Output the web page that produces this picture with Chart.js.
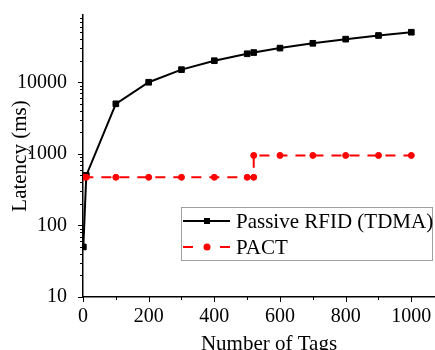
<!DOCTYPE html>
<html>
<head>
<meta charset="utf-8">
<script src="https://cdn.jsdelivr.net/npm/chart.js@4"></script>
<style>
  body { margin: 0; background: #fff; }
  #wrap { width: 435px; height: 350px; overflow: hidden; position: relative; }
  #wrap canvas { position: absolute; left: 0; top: 0; }
</style>
</head>
<body>
<div id="wrap"><canvas id="chart" width="460" height="365"></canvas></div>
<script>
// data
const tagsTdma = [1, 10, 100, 200, 300, 400, 500, 520, 600, 700, 800, 900, 1000];
const latencyTdma = [50, 500, 5000, 10000, 15000, 20000, 25000, 26000, 30000, 35000, 40000, 45000, 50000];
const tagsPact = [1, 10, 100, 200, 300, 400, 500, 520, 520, 600, 700, 800, 900, 1000];
const latencyPact = [470, 470, 470, 470, 470, 470, 470, 470, 950, 950, 950, 950, 950, 950];
const yTickLabels = [10, 100, 1000, 10000];
const xTickLabels = [0, 200, 400, 600, 800, 1000];

const serif = 'Liberation Serif';

function pairs(xs, ys) {
    return xs.map((x, i) => ({ x: x, y: ys[i] }));
}

// outward tick marks: long at labelled values, short minor ones in between
const tickMarks = {
    id: 'tickMarks',
    afterDraw(chart) {
        const ctx = chart.ctx;
        const xs = chart.scales.x;
        const ys = chart.scales.y;
        ctx.save();
        ctx.strokeStyle = '#000';
        ctx.lineWidth = 1;
        for (let dec = 10; dec <= ys.max; dec *= 10) {
            for (let k = 1; k <= 9; k++) {
                const v = k * dec;
                if (v > ys.max) break;
                const py = Math.round(ys.getPixelForValue(v)) + 0.5;
                const len = k === 1 ? 5 : 3;
                ctx.beginPath();
                ctx.moveTo(ys.right - len, py);
                ctx.lineTo(ys.right, py);
                ctx.stroke();
            }
        }
        for (let v = 0; v <= xs.max; v += 100) {
            const px = Math.round(xs.getPixelForValue(v)) + 0.5;
            const len = v % 200 === 0 ? 5 : 3;
            ctx.beginPath();
            ctx.moveTo(px, xs.top);
            ctx.lineTo(px, xs.top + len);
            ctx.stroke();
        }
        ctx.restore();
    }
};

// boxed legend inside the plot
const boxLegend = {
    id: 'boxLegend',
    afterDraw(chart) {
        const ctx = chart.ctx;
        const bx = 181, by = 207, bw = 251, bh = 53;
        ctx.save();
        ctx.fillStyle = '#fff';
        ctx.fillRect(bx, by, bw, bh);
        ctx.strokeStyle = '#a0a0a0';
        ctx.lineWidth = 1;
        ctx.strokeRect(bx + 0.5, by + 0.5, bw, bh);
        const rows = [221, 247];
        chart.data.datasets.forEach((ds, i) => {
            const y = rows[i];
            ctx.strokeStyle = ds.borderColor;
            ctx.lineWidth = ds.borderWidth;
            ctx.beginPath();
            if (ds.borderDash) {
                ctx.moveTo(183, y); ctx.lineTo(193, y);
                ctx.moveTo(220, y); ctx.lineTo(230, y);
            } else {
                ctx.moveTo(183, y); ctx.lineTo(230, y);
            }
            ctx.stroke();
            ctx.fillStyle = ds.pointBackgroundColor;
            ctx.beginPath();
            if (ds.pointStyle === 'rect') {
                ctx.rect(204, y - 3, 6, 6);
            } else {
                ctx.arc(207, y, 3.5, 0, Math.PI * 2);
            }
            ctx.fill();
            ctx.fillStyle = '#000';
            ctx.font = '21px "' + serif + '"';
            ctx.textBaseline = 'middle';
            ctx.fillText(ds.label, 236, y + 1);
        });
        ctx.restore();
    }
};

new Chart(document.getElementById('chart'), {
    type: 'line',
    data: {
        datasets: [
            {
                label: 'Passive RFID (TDMA)',
                data: pairs(tagsTdma, latencyTdma),
                borderColor: '#000',
                backgroundColor: '#000',
                pointBackgroundColor: '#000',
                pointBorderColor: '#000',
                borderWidth: 2,
                pointStyle: 'rect',
                pointRadius: 4,
                pointBorderWidth: 1,
                order: 2
            },
            {
                label: 'PACT',
                data: pairs(tagsPact, latencyPact),
                borderColor: '#ff0000',
                backgroundColor: '#ff0000',
                pointBackgroundColor: '#ff0000',
                pointBorderColor: '#ff0000',
                borderWidth: 2,
                borderDash: [10, 8],
                pointStyle: 'circle',
                pointRadius: 3,
                pointBorderWidth: 1,
                order: 1
            }
        ]
    },
    options: {
        responsive: false,
        animation: false,
        events: [],
        layout: { padding: { top: 15, left: 0, right: 0, bottom: 0 } },
        plugins: { legend: { display: false }, tooltip: { enabled: false } },
        scales: {
            x: {
                type: 'linear',
                min: 0,
                max: 1133,
                afterFit: s => { s.height = 68; s.paddingLeft = 0; s.paddingRight = 0; },
                grid: { display: false },
                border: { display: true, color: '#000', width: 1.5 },
                ticks: {
                    stepSize: 100,
                    autoSkip: false,
                    maxRotation: 0,
                    padding: 0,
                    color: '#000',
                    font: { family: serif, size: 20 },
                    callback: v => xTickLabels.includes(v) ? String(v) : ''
                },
                title: {
                    display: true,
                    text: 'Number of Tags',
                    color: '#000',
                    font: { family: serif, size: 21 },
                    padding: { top: 0, bottom: 8 }
                }
            },
            y: {
                type: 'logarithmic',
                min: 10,
                max: 87000,
                afterFit: s => { s.width = 83; s.paddingTop = 0; s.paddingBottom = 0; },
                grid: { display: false },
                border: { display: true, color: '#000', width: 1.5 },
                ticks: {
                    autoSkip: false,
                    padding: 8,
                    color: '#000',
                    font: { family: serif, size: 20 },
                    callback: v => yTickLabels.includes(v) ? String(v) : ''
                },
                title: {
                    display: true,
                    text: 'Latency (ms)',
                    color: '#000',
                    font: { family: serif, size: 21 },
                    padding: { top: 8, bottom: 0 }
                }
            }
        }
    },
    plugins: [tickMarks, boxLegend]
});
</script>
</body>
</html>
